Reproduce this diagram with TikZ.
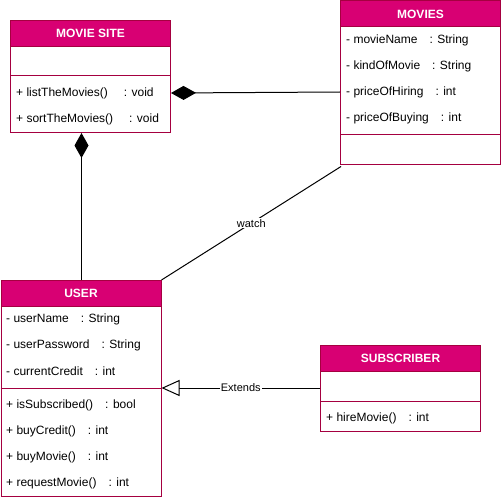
\documentclass[tikz,border=0pt]{standalone}
\usepackage{fontspec}
\setmainfont{Liberation Sans}
\usetikzlibrary{arrows.meta}

\definecolor{headfill}{HTML}{D80073}
\definecolor{headline}{HTML}{A50040}

\tikzset{
  classbox/.style={draw=headline, fill=white, line width=1pt, rectangle, anchor=north west, inner sep=0pt, minimum width=160pt},
  classhead/.style={draw=headline, fill=headfill, text=white, font=\bfseries\fontsize{12}{14}\selectfont, line width=1pt, rectangle, anchor=north west, inner sep=0pt, minimum width=160pt, minimum height=26pt},
  member/.style={anchor=west, inner sep=0pt, font=\fontsize{12}{14}\selectfont},
  divline/.style={draw=headline, line width=1pt},
  link/.style={draw=black, line width=1pt},
  composition/.style={link, -{Diamond[length=25pt,width=14pt,fill=black]}},
  extends/.style={link, -{Triangle[open,length=18pt,width=16pt,fill=white]}},
  linklabel/.style={fill=white, inner sep=1pt, font=\fontsize{11}{13}\selectfont}
}

\newcommand{\mbr}[3][12pt]{#2\hspace{#1}: #3}

\begin{document}
\begin{tikzpicture}[x=1pt,y=-1pt]
\useasboundingbox (0,0) rectangle (501,500);

% movie site
\node[classbox, minimum height=112pt] (site) at (10,20) {};
\node[classhead] (sitehead) at (site.north west) {MOVIE SITE};
\draw[divline] (10,76) -- (170,76);
\node[member] (sitem1) at (16,93) {\mbr[16pt]{+ listTheMovies()}{void}};
\node[member] (sitem2) at (16,119) {\mbr[16pt]{+ sortTheMovies()}{void}};

% movies
\node[classbox, minimum height=164pt] (movies) at (340,0.5) {};
\node[classhead] (movieshead) at (movies.north west) {MOVIES};
\draw[divline] (340,134.5) -- (500,134.5);
\node[member] (moviesa1) at (346,40) {\mbr{- movieName}{String}};
\node[member] (moviesa2) at (346,66) {\mbr{- kindOfMovie}{String}};
\node[member] (moviesa3) at (346,92) {\mbr{- priceOfHiring}{int}};
\node[member] (moviesa4) at (346,118) {\mbr{- priceOfBuying}{int}};

% user
\node[classbox, minimum height=216pt] (user) at (0.5,280) {};
\node[classhead] (userhead) at (user.north west) {USER};
\coordinate (userdiv) at (0,388);
\draw[divline] (0.5,388) -- (160.5,388);
\node[member] (usera1) at (6,319) {\mbr{- userName}{String}};
\node[member] (usera2) at (6,345) {\mbr{- userPassword}{String}};
\node[member] (usera3) at (6,371) {\mbr{- currentCredit}{int}};
\node[member] (userm1) at (6,405) {\mbr{+ isSubscribed()}{bool}};
\node[member] (userm2) at (6,431) {\mbr{+ buyCredit()}{int}};
\node[member] (userm3) at (6,457) {\mbr{+ buyMovie()}{int}};
\node[member] (userm4) at (6,483) {\mbr{+ requestMovie()}{int}};

% subscriber
\node[classbox, minimum height=86pt] (sub) at (320,345) {};
\node[classhead] (subhead) at (sub.north west) {SUBSCRIBER};
\draw[divline] (320,401) -- (480,401);
\node[member] (subm1) at (326,418) {\mbr{+ hireMovie()}{int}};

% links
\draw[composition] (movies.west |- moviesa3) -- (site.east |- sitem1);
\draw[composition] ([xshift=0.5pt]user.north) -- ([xshift=-9pt]site.south);
\draw[link] (user.north east) -- ([xshift=1pt,yshift=-1pt]movies.south west)
  node[midway, linklabel] (watch) {watch};
\draw[extends] (sub.west |- userdiv) -- (user.east |- userdiv)
  node[midway, linklabel] (ext) {Extends};

\end{tikzpicture}
\end{document}
